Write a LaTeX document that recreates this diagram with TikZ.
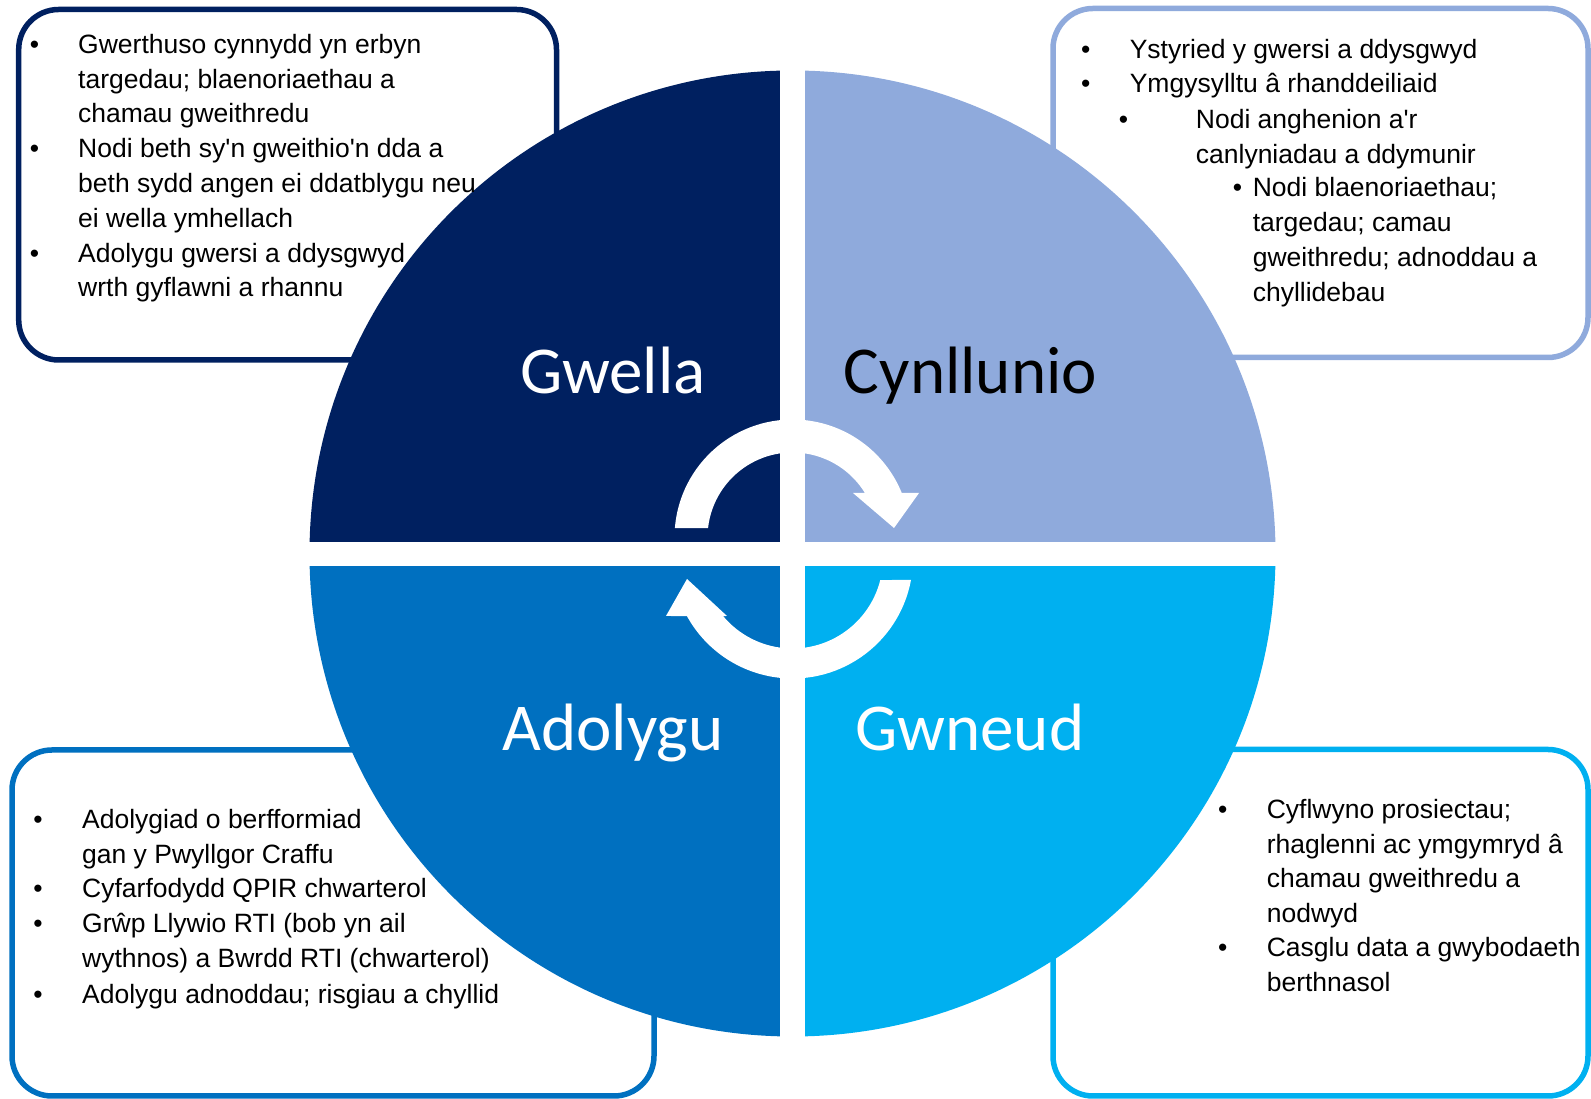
\documentclass[tikz,border=0pt]{standalone}
\usepackage{fontspec}
\setmainfont{Liberation Sans}[Ligatures=TeXOff]
\newfontfamily\phasefont{Carlito}
\definecolor{navy}{HTML}{002060}
\definecolor{paleblue}{HTML}{8FAADC}
\definecolor{midblue}{HTML}{0070C0}
\definecolor{skyblue}{HTML}{00B0F0}
\begin{document}
\begin{tikzpicture}[x=1pt, y=1pt,
	box/.style={line width=5.5pt, fill=white, rounded corners=40pt},
	item/.style={anchor=base west, align=left, inner sep=0pt, font=\fontsize{26.5}{34.8}\selectfont},
	bulletmark/.style={anchor=base, inner sep=0pt, font=\fontsize{26.5}{34.8}\selectfont},
	phase/.style={anchor=base, inner sep=0pt, font=\phasefont\fontsize{67}{70}\selectfont},
	cyclearrow/.style={fill=white}]
	\useasboundingbox (0, 0) rectangle (1591, 1099);
	\draw[box, draw=navy] (18.7, 739) rectangle (556.5, 1089.5);
	\draw[box, draw=paleblue] (1053, 741.5) rectangle (1588, 1090.5);
	\draw[box, draw=midblue] (12, 3) rectangle (654, 349);
	\draw[box, draw=skyblue] (1053, 3) rectangle (1588, 349.5);
	\coordinate (cen) at (792.5, 545.5);
	\fill[navy] (cen) -- ++(180:483) arc[start angle=180, end angle=90, radius=483] -- cycle;
	\fill[paleblue] (cen) -- ++(90:483) arc[start angle=90, end angle=0, radius=483] -- cycle;
	\fill[skyblue] (cen) -- ++(0:483) arc[start angle=0, end angle=-90, radius=483] -- cycle;
	\fill[midblue] (cen) -- ++(-90:483) arc[start angle=-90, end angle=-180, radius=483] -- cycle;
	\fill[white] (780, 60) rectangle (805, 1031);
	\fill[white] (307, 533.3) rectangle (1278, 557.3);
	\coordinate (topc) at (792.5, 561.5);
	\coordinate (botc) at (792.5, 541);
	\fill[cyclearrow] ([shift={(175.4:118)}]topc) arc[start angle=175.4, end angle=22.2, radius=118]
		-- (919, 606) -- (894, 571) -- (853, 606)
		-- ([shift={(31.6:85)}]topc) arc[start angle=31.6, end angle=173.6, radius=85] -- cycle;
	\fill[cyclearrow] ([shift={(-10.5:120.5)}]botc) arc[start angle=-10.5, end angle=-151.2, radius=120.5]
		-- (666, 483) -- (687, 520) -- (727, 483)
		-- ([shift={(-140.1:90.5)}]botc) arc[start angle=-140.1, end angle=-14.1, radius=90.5] -- cycle;
	\node[phase, white] (gwella) at (613, 705.3) {Gwella};
	\node[phase, black] (cynllunio) at (970.5, 705) {Cynllunio};
	\node[phase, white] (adolygu) at (613, 348) {Adolygu};
	\node[phase, white] (gwneud) at (970, 348) {Gwneud};
	\node[bulletmark] (tlb1) at (34.6, 1045.7) {•};
	\node[item] (tl1) at (78, 976.1) {Gwerthuso cynnydd yn erbyn\\targedau; blaenoriaethau a\\chamau gweithredu};
	\node[bulletmark] (tlb2) at (34.6, 941.3) {•};
	\node[item] (tl2) at (78, 871.7) {Nodi beth sy'n gweithio'n dda a\\beth sydd angen ei ddatblygu neu\\ei wella ymhellach};
	\node[bulletmark] (tlb3) at (34.6, 836.9) {•};
	\node[item] (tl3) at (78, 802.1) {Adolygu gwersi a ddysgwyd\\wrth gyflawni a rhannu};
	\node[bulletmark] (trb1) at (1085.7, 1040.7) {•};
	\node[item] (tr1) at (1129.6, 1040.7) {Ystyried y gwersi a ddysgwyd};
	\node[bulletmark] (trb2) at (1085.7, 1006.3) {•};
	\node[item] (tr2) at (1129.6, 1006.3) {Ymgysylltu â rhanddeiliaid};
	\node[bulletmark] (trb3) at (1123.6, 970.7) {•};
	\node[item] (tr3) at (1195.7, 935.9) {Nodi anghenion a'r\\canlyniadau a ddymunir};
	\node[bulletmark] (trb4) at (1237.5, 902.3) {•};
	\node[item] (tr4) at (1252.6, 797.9) {Nodi blaenoriaethau;\\targedau; camau\\gweithredu; adnoddau a\\chyllidebau};
	\node[bulletmark] (blb1) at (37.9, 270.7) {•};
	\node[item] (bl1) at (82, 235.9) {Adolygiad o berfformiad\\gan y Pwyllgor Craffu};
	\node[bulletmark] (blb2) at (37.9, 201.7) {•};
	\node[item] (bl2) at (82, 201.7) {Cyfarfodydd QPIR chwarterol};
	\node[bulletmark] (blb3) at (37.9, 166.7) {•};
	\node[item] (bl3) at (82, 131.9) {Grŵp Llywio RTI (bob yn ail\\wythnos) a Bwrdd RTI (chwarterol)};
	\node[bulletmark] (blb4) at (37.9, 95.7) {•};
	\node[item] (bl4) at (82, 95.7) {Adolygu adnoddau; risgiau a chyllid};
	\node[bulletmark] (brb1) at (1222.7, 280.7) {•};
	\node[item] (br1) at (1266.6, 176.3) {Cyflwyno prosiectau;\\rhaglenni ac ymgymryd â\\chamau gweithredu a\\nodwyd};
	\node[bulletmark] (brb2) at (1222.7, 142.3) {•};
	\node[item] (br2) at (1266.6, 107.5) {Casglu data a gwybodaeth\\berthnasol};
\end{tikzpicture}
\end{document}
